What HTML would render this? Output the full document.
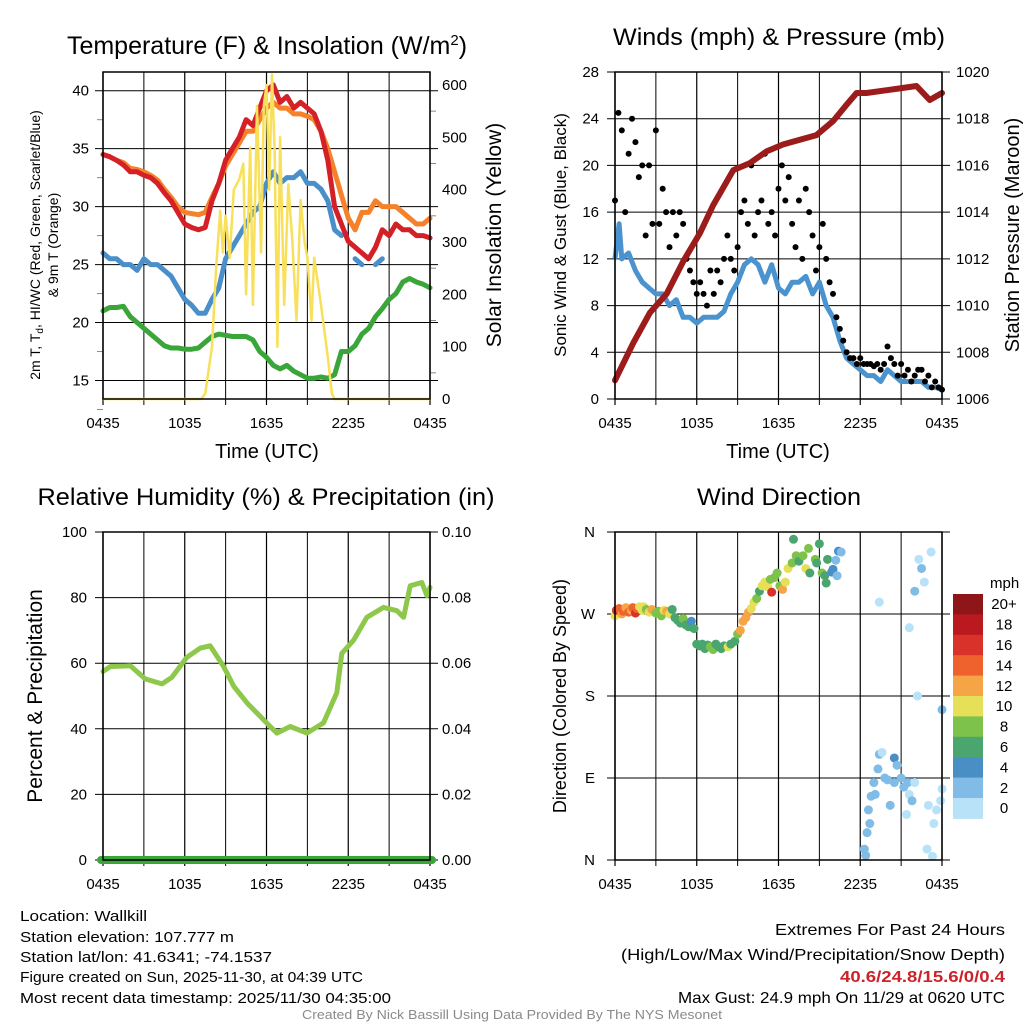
<!DOCTYPE html>
<html><head><meta charset="utf-8">
<style>
html,body{margin:0;padding:0;background:#fff;}
svg{display:block;font-family:"Liberation Sans",Arial,sans-serif;}
</style></head>
<body>
<svg id="fig" width="1024" height="1024" viewBox="0 0 1024 1024" xmlns="http://www.w3.org/2000/svg">
<rect width="1024" height="1024" fill="#fff"/>
<g id="p1"></g>
<g id="p2"></g>
<g id="p3"></g>
<g id="p4"></g>
<g font-size="15" fill="#000">
<text x="20" y="921" textLength="127" lengthAdjust="spacingAndGlyphs">Location: Wallkill</text>
<text x="20" y="942" textLength="214" lengthAdjust="spacingAndGlyphs">Station elevation: 107.777 m</text>
<text x="20" y="962" textLength="252" lengthAdjust="spacingAndGlyphs">Station lat/lon: 41.6341; -74.1537</text>
<text x="20" y="982" textLength="343" lengthAdjust="spacingAndGlyphs">Figure created on Sun, 2025-11-30, at 04:39 UTC</text>
<text x="20" y="1003" textLength="371" lengthAdjust="spacingAndGlyphs">Most recent data timestamp: 2025/11/30 04:35:00</text>
</g>
<g font-size="16" fill="#000">
<text x="775" y="935" textLength="230" lengthAdjust="spacingAndGlyphs">Extremes For Past 24 Hours</text>
<text x="621" y="960" textLength="384" lengthAdjust="spacingAndGlyphs">(High/Low/Max Wind/Precipitation/Snow Depth)</text>
<text x="840" y="982" textLength="165" lengthAdjust="spacingAndGlyphs" fill="#cc2229" font-weight="bold">40.6/24.8/15.6/0/0.4</text>
<text x="678" y="1003" textLength="327" lengthAdjust="spacingAndGlyphs">Max Gust: 24.9 mph On 11/29 at 0620 UTC</text>
</g>
<text x="302" y="1019" font-size="13" fill="#8a8a8a" textLength="420" lengthAdjust="spacingAndGlyphs">Created By Nick Bassill Using Data Provided By The NYS Mesonet</text>
</svg>
<script>
// ---------- data ----------
const xTickLabels = ["0435","1035","1635","2235","0435"];
const tempHours = [0,0.5,1,1.5,2,2.5,3,3.5,4,4.5,5,5.5,6,6.5,7,7.5,8,8.5,9,9.5,10,10.5,11,11.5,12,12.5,13,13.5,14,14.5,15,15.5,16,16.5,17,17.5,18,18.5,19,19.5,20,20.5,21,21.5,22,22.5,23,23.5,24];
const tempRed = [34.5,34.3,34,33.6,33,33,32.7,32.5,32,31.2,30.5,29.5,28.5,28.2,28,28.2,30.5,32,34,35,36,37.5,37,38.5,40,40.5,39,39.5,38.5,39,38.5,38,36.5,34,30,28.5,27,26.5,26,25.5,26.5,28,27.5,28.5,28,28,27.5,27.5,27.3];
const tempOrange = [34.5,34.3,34,33.8,33.3,33.2,33,32.7,32.3,31.5,30.8,30,29.5,29.4,29.3,29.5,30.8,32,33.5,34.5,35.5,36.5,36.5,37.5,38.5,39,38.5,38.5,38,38,37.8,37.5,36.5,35,33,31,29,28,29.5,29.5,30.5,30,30,30,29.5,29,28.5,28.5,29];
const tempBlue = [26,25.5,25.5,25,25,24.5,25.5,25,25,24.5,24,23,22,21.5,20.8,20.8,22,23,25.5,26.5,27.5,28.5,29.5,30,32,33,32,32.5,32.5,33,32,32,31.5,30.5,28,27.5,null,25.5,25,null,25,25.5,null,null,null,null,null,null,null];
const tempGreen = [21,21.3,21.3,21.4,20.5,20,19.5,19,18.5,18,17.8,17.8,17.7,17.7,17.8,18.3,18.8,19,18.9,18.8,18.8,18.8,18.5,17.5,17,16.3,16,16.3,15.8,15.5,15.2,15.2,15.3,15.2,15.5,17.5,17.5,18,19,19.5,20.5,21.2,22,22.5,23.5,23.8,23.5,23.3,23];
const solarHours = [0,7.2,7.5,8,8.3,8.6,8.8,9,9.3,9.6,10,10.3,10.5,10.8,11,11.3,11.6,11.8,12,12.2,12.4,12.6,12.8,13,13.3,13.6,13.9,14.2,14.5,14.8,15,15.3,15.5,16,16.5,16.8,17,24];
const solarValues = [0,0,10,100,250,360,280,350,270,400,420,450,200,480,180,560,280,560,600,400,620,470,100,500,180,410,300,150,380,300,270,150,270,180,80,10,0,0];
const yTicksTemp = [15,20,25,30,35,40];
const yTicksSolar = [0,100,200,300,400,500,600];

const windHours = [0,0.3,0.5,1,1.5,2,2.5,3,3.5,4,4.5,5,5.5,6,6.5,7,7.5,8,8.5,9,9.5,10,10.5,11,11.5,12,12.5,13,13.5,14,14.5,15,15.5,16,16.5,17,17.5,18,18.5,19,19.5,20,20.5,21,21.5,22,22.5,23,23.5,24];
const windSpeed = [12,15,12,12.5,11,10,9.5,9,9,8,8.5,7,7,6.5,7,7,7,7.5,9,10,11.5,12,11.5,10,11.5,9.5,9,10,10,10.5,9,10,8,7,5,3.5,3,2.5,2,2,1.5,2.5,2,1.5,1.5,1.5,1.5,1,1,0.8];
const gustValues = [17,24.5,23,16,21,24,22,19,20,14,20,15,23,15,18,16,13,16,14,16,15,12,11,10,9,10,9,8,11,9,11,10,12,14,12,11,13,16,17,15,20,14,16,17,21,15,16,14,18,20,17,19,15,13,17,12,18,16,14,11,13,15,12,10,9,7,6,5,4,3.5,3.5,3,3.5,3,3,3,2.8,3,2.5,3,4.5,3.5,3,2,3,2,2.5,1.5,2,2.5,2.5,1.5,2,1,1.5,1,0.8];
const gustStep = 0.25;
const pressHours = [0,1.34,2.57,3.79,5.01,6.23,7.21,8.68,9.9,11.12,12.35,13.57,14.79,16.01,17,17.73,18.46,19.68,20.9,22.13,23.1,24];
const pressValues = [1006.8,1008.4,1009.7,1010.5,1011.9,1013.1,1014.3,1015.8,1016.1,1016.6,1016.9,1017.1,1017.3,1017.9,1018.6,1019.1,1019.1,1019.2,1019.3,1019.4,1018.8,1019.1];
const yTicksWind = [0,4,8,12,16,20,24,28];
const yTicksPress = [1006,1008,1010,1012,1014,1016,1018,1020];

const rhHours = [0,0.54,2,3.1,4.33,5.06,6.16,7.14,7.87,8.85,9.61,10.59,12.27,12.76,13.74,14.96,16.18,17.16,17.53,18.39,19.37,20.59,21.57,22.06,22.55,23.4,23.77,24];
const rhValues = [57.5,59,59.2,55.2,53.7,55.7,61.8,64.6,65.3,59,52.9,47.8,40.7,38.7,40.7,38.7,41.8,51,63,67,74,77,76,74,83.6,84.6,80.6,83.1];
const precipValue = 0;
const yTicksRH = [0,20,40,60,80,100];
const yTicksPrecip = ["0.00","0.02","0.04","0.06","0.08","0.10"];

const dirHours = [0,0.1,0.3,0.5,0.6,0.8,1,1.2,1.3,1.5,1.6,1.8,2,2.1,2.3,2.5,2.7,3,3.2,3.4,3.6,3.8,4,4.2,4.4,4.6,4.8,5,5.2,5.4,5.6,5.8,6,6.2,6.4,6.6,6.8,7,7.2,7.4,7.6,7.8,8,8.3,8.5,8.8,9,9.2,9.4,9.6,9.8,10,10.2,10.4,10.6,10.8,11,11.2,11.4,11.5,11.7,11.9,12.1,12.3,12.5,12.7,13,13.1,13.3,13.5,13.8,14,14.2,14.3,14.7,14.8,15,15.2,15.4,15.5,15.6,15.9,16,16.2,16.3,16.4,16.6,18.3,18.4,18.5,18.6,18.7,18.8,19,19.1,19.3,19.4,19.4,19.6,19.8,20,20.2,20.5,20.5,20.7,21,21.2,21.4,21.5,21.6,21.6,21.8,22,22,22.2,22.3,22.5,22.7,22.9,23,23.2,23.3,23.4,23.6,23.9,24,24];
const dirValues = [268,274,276,270,273,277,272,274,277,271,276,278,274,278,275,272,275,271,273,268,274,273,270,275,266,263,260,265,258,256,262,254,237,235,237,232,236,234,231,237,234,232,235,234,237,240,248,252,262,266,272,276,283,287,295,301,305,300,308,294,310,315,301,297,305,320,326,352,334,328,334,320,342,315,330,326,347,315,312,304,330,316,319,329,312,339,338,12,5,30,55,40,70,85,72,100,116,283,118,90,88,60,85,112,104,90,80,50,85,72,255,65,85,295,180,330,320,305,12,60,338,4,40,55,65,165,78];
const dirSpeeds = [10,17,15,12,14,13,15,13,14,16,15,10,11,10,9,10,12,8,8,9,10,12,10,7,7,6,7,8,7,6,5,7,7,6,7,7,7,8,8,6,7,7,7,10,7,7,8,12,13,12,13,11,10,9,7,10,10,11,9,16,9,8,8,12,11,10,8,7,8,7,9,10,8,6,8,6,7,8,7,6,6,4,4,3,2,4,2,3,2,3,3,3,3,3,2,3,3,0,1,2,3,2,2,4,3,2,2,1,3,1,0,3,1,3,1,1,2,1,1,1,1,1,1,1,1,2,1];
const speedColors = ['#b8e2f8','#80bce6','#4a8ec6','#4aa66e','#7dc24b','#e5e057','#f5a545','#f0622d','#d9322a','#b9191f','#8e1518'];
const speedLabels = ["0","2","4","6","8","10","12","14","16","18","20+"];
const dirTickLabels = ["N","E","S","W","N"];

// ---------- helpers ----------
const NS = "http://www.w3.org/2000/svg";
function mk(parent, tag, attrs, text){
  const e = document.createElementNS(NS, tag);
  for (const k in attrs) e.setAttribute(k, attrs[k]);
  if (text !== undefined) e.textContent = text;
  parent.appendChild(e);
  return e;
}
function lin(d0,d1,r0,r1){ return v => r0 + (v-d0)/(d1-d0)*(r1-r0); }
function pathFrom(xs, ys, sx, sy){
  let d = "", pen = false;
  for (let i=0;i<xs.length;i++){
    if (ys[i]===null){ pen=false; continue; }
    d += (pen?"L":"M") + sx(xs[i]).toFixed(1) + "," + sy(ys[i]).toFixed(1);
    pen = true;
  }
  return d;
}
function frame(g, L, T, R, B){
  const sx = lin(0,24,L,R);
  for (let h=0; h<=24; h+=3){
    const ln = mk(g,"line",{x1:sx(h),x2:sx(h),y1:T,y2:B+6,stroke:"#000","stroke-width":h%6===0?1.2:1});
    
    
  }
  xTickLabels.forEach((t,i)=>{
    const tx = mk(g,"text",{x:sx(i*6),y:B+29,"font-size":15,"text-anchor":"middle"},t);
    
    
  });
  return sx;
}
function border(g,L,T,R,B){
  const r = mk(g,"rect",{x:L,y:T,width:R-L,height:B-T,fill:"none",stroke:"#000","stroke-width":1.5});
  
  
}
function hgrid(g, L, R, y){
  const ln = mk(g,"line",{x1:L-8,x2:R+8,y1:y,y2:y,stroke:"#000","stroke-width":1});
  
  
}
function ylabel(g, x, y, t, anchor){
  const tx = mk(g,"text",{x:x,y:y+5,"font-size":15,"text-anchor":anchor},t);
  
  
}
function vtitle(g, x, y, t, size, name){
  const tx = mk(g,"text",{x:x,y:y,"font-size":size,"text-anchor":"middle",transform:`rotate(-90 ${x} ${y})`},t);
  
  
  return tx;
}
function title(g,x,y,t,name,len){
  const a = {x:x,y:y,"font-size":24,"text-anchor":"middle"};
  if (len){ a.textLength=len; a.lengthAdjust="spacingAndGlyphs"; }
  const tx = mk(g,"text",a,t);
  
  
  return tx;
}
function xtitle(g,x,y){
  const tx = mk(g,"text",{x:x,y:y,"font-size":20,"text-anchor":"middle"},"Time (UTC)");
  
  
}

// ---------- panel 1 ----------
(function(){
  const g = document.getElementById("p1");
  const L=103,T=72,R=430,B=399;
  const t1 = mk(g,"text",{x:267,y:54,"font-size":25,"text-anchor":"middle"});
  t1.innerHTML = 'Temperature (F) &amp; Insolation (W/m<tspan dy="-9" font-size="15">2</tspan><tspan dy="9">)</tspan>';
  
  
  const sy = lin(15,40,380.5,90.7);
  const sr = lin(0,600,399,85);
  const sx = frame(g,L,T,R,B);
  yTicksTemp.forEach(v=>{ hgrid(g,L,R,sy(v)); ylabel(g,L-14,sy(v),String(v),"end"); });
  yTicksSolar.forEach(v=>{ ylabel(g,R+12,sr(v),String(v),"start"); });
  for (let v=12.5; v<41.6; v+=2.5){ if(v%5){ const m=mk(g,"line",{x1:L-6,x2:L,y1:sy(v),y2:sy(v),stroke:"#888"});   } }
  for (let v=50; v<620; v+=100){ const m=mk(g,"line",{x1:R,x2:R+6,y1:sr(v),y2:sr(v),stroke:"#888"});   }
  const series = [["#3aa63a",tempGreen,"dewpoint-line"],["#4a8fc9",tempBlue,"windchill-line"],["#f5822a",tempOrange,"9m-temperature-line"],["#d42027",tempRed,"2m-temperature-line"]];
  series.forEach(s=>{
    const p = mk(g,"path",{d:pathFrom(tempHours,s[1],sx,sy),fill:"none",stroke:s[0],"stroke-width":5,"stroke-linejoin":"round","stroke-linecap":"round"});
    
    
  });
  const sp = mk(g,"path",{d:pathFrom(solarHours,solarValues,sx,sr),fill:"none",stroke:"#f8e05a","stroke-width":2.5,"stroke-linejoin":"round"});
  
  
  border(g,L,T,R,B);
  const yt = mk(g,"text",{x:40,y:245,"font-size":14,"text-anchor":"middle",transform:"rotate(-90 40 245)"});
  yt.innerHTML = '2m T, T<tspan dy="3" font-size="10">d</tspan><tspan dy="-3">, HI/WC (Red, Green, Scarlet/Blue)</tspan>';
  
  
  vtitle(g,58,245,"& 9m T (Orange)",14,"left-axis-title-2");
  vtitle(g,501,235,"Solar Insolation (Yellow)",21,"right-axis-title");
  xtitle(g,267,458);
})();

// ---------- panel 2 ----------
(function(){
  const g = document.getElementById("p2");
  const L=615,T=72,R=942,B=399;
  title(g,779,45,"Winds (mph) & Pressure (mb)","chart-title",332);
  const sy = lin(0,28,399,72);
  const sp = lin(1006,1020,399,72);
  const sx = frame(g,L,T,R,B);
  yTicksWind.forEach(v=>{ hgrid(g,L,R,sy(v)); ylabel(g,L-16,sy(v),String(v),"end"); });
  yTicksPress.forEach(v=>{ ylabel(g,R+14,sp(v),String(v),"start"); });
  const wl = mk(g,"path",{d:pathFrom(windHours,windSpeed,sx,sy),fill:"none",stroke:"#4a93cf","stroke-width":5,"stroke-linejoin":"round"});
  
  
  gustValues.forEach((v,i)=>{
    const c = mk(g,"circle",{cx:sx(i*gustStep),cy:sy(v),r:3,fill:"#000"});
    
    
  });
  const pl = mk(g,"path",{d:pathFrom(pressHours,pressValues,sx,sp),fill:"none",stroke:"#9c1c1c","stroke-width":6,"stroke-linejoin":"round","stroke-linecap":"round"});
  
  
  border(g,L,T,R,B);
  vtitle(g,566,235,"Sonic Wind & Gust (Blue, Black)",17,"left-axis-title");
  vtitle(g,1019,235,"Station Pressure (Maroon)",20,"right-axis-title");
  xtitle(g,778,458);
})();

// ---------- panel 3 ----------
(function(){
  const g = document.getElementById("p3");
  const L=103,T=532,R=430,B=860;
  title(g,266,505,"Relative Humidity (%) & Precipitation (in)","chart-title",457);
  const sy = lin(0,100,860,532);
  const sx = frame(g,L,T,R,B);
  yTicksRH.forEach(v=>{ hgrid(g,L,R,sy(v)); ylabel(g,L-16,sy(v),String(v),"end"); });
  yTicksPrecip.forEach((t,i)=>{ ylabel(g,R+12,sy(i*20),t,"start"); });
  const rl = mk(g,"path",{d:pathFrom(rhHours,rhValues,sx,sy),fill:"none",stroke:"#8dc84a","stroke-width":5,"stroke-linejoin":"round","stroke-linecap":"round"});
  
  
  const pr = mk(g,"line",{x1:L-2,x2:R+2,y1:sy(precipValue*1000),y2:sy(precipValue*1000),stroke:"#3aa63a","stroke-width":8,"stroke-linecap":"round"});
  
  
  border(g,L,T,R,B);
  vtitle(g,42,696,"Percent & Precipitation",21,"left-axis-title");
})();

// ---------- panel 4 ----------
(function(){
  const g = document.getElementById("p4");
  const L=615,T=532,R=942,B=860;
  title(g,779,505,"Wind Direction","chart-title",164);
  const sy = lin(0,360,860,532);
  const sx = frame(g,L,T,R,B);
  dirTickLabels.forEach((t,i)=>{ hgrid(g,L,R,sy(i*90)); ylabel(g,L-20,sy(i*90),t,"end"); });
  dirHours.forEach((h,i)=>{
    const bin = Math.min(10, Math.floor(dirSpeeds[i]/2));
    const c = mk(g,"circle",{cx:sx(h),cy:sy(dirValues[i]),r:4.5,fill:speedColors[bin]});
    
    
  });
  border(g,L,T,R,B);
  vtitle(g,566,696,"Direction (Colored By Speed)",18,"left-axis-title");
  const cb = mk(g,"g",{});
  
  
  const top=594, bh=20.4;
  for (let i=0;i<11;i++){
    const idx = 10-i;
    const r = mk(cb,"rect",{x:953,y:top+i*bh,width:30,height:bh+0.5,fill:speedColors[idx]});
    
    
    const t = mk(cb,"text",{x:1004,y:top+i*bh+bh/2+5,"font-size":15,"text-anchor":"middle"},speedLabels[idx]);
    
    
  }
  const u = mk(cb,"text",{x:990,y:588,"font-size":15},"mph");
  
  
})();
</script>
</body></html>
